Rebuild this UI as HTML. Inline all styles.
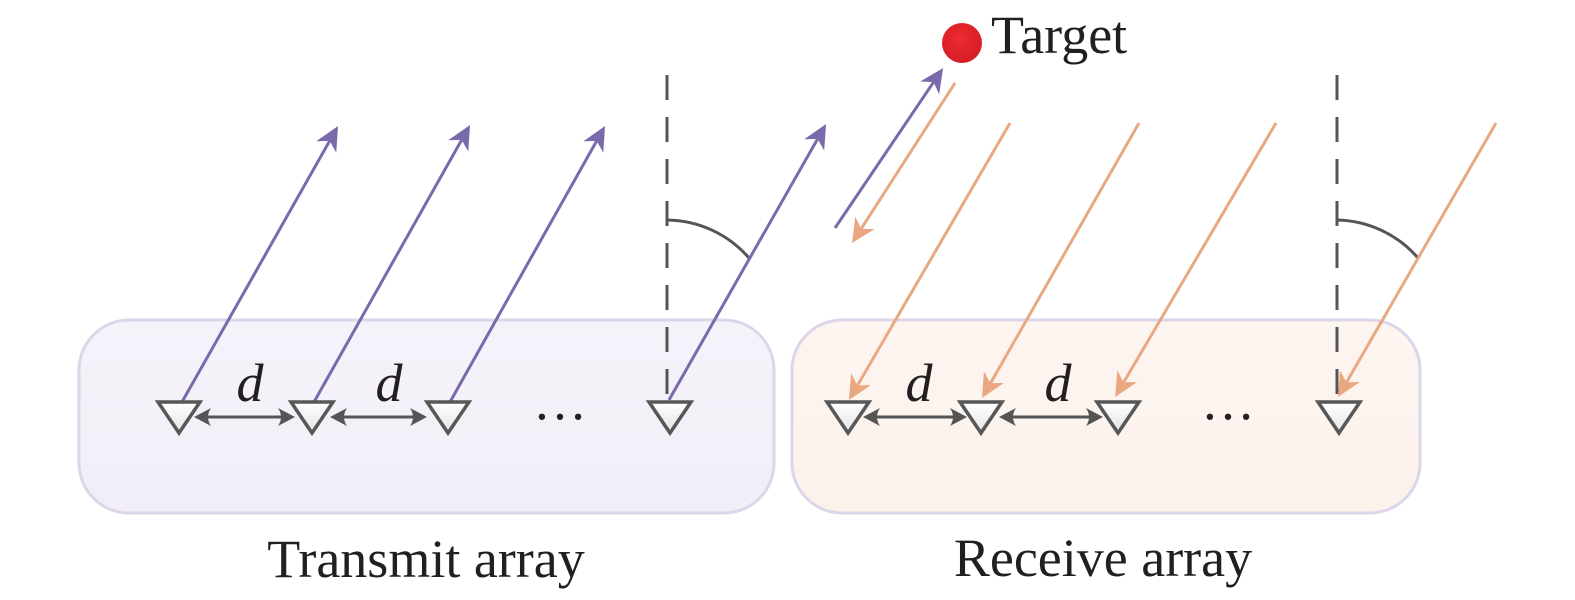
<!DOCTYPE html>
<html>
<head>
<meta charset="utf-8">
<style>
  html,body{margin:0;padding:0;background:#ffffff;}
  svg{display:block;}
  text{font-family:"Liberation Serif","Times New Roman",serif;fill:#231f20;}
</style>
</head>
<body>
<svg width="1575" height="600" viewBox="0 0 1575 600" xmlns="http://www.w3.org/2000/svg">
  <defs>
    <linearGradient id="gL" x1="0" y1="0" x2="0" y2="1">
      <stop offset="0" stop-color="#f5f3fa"/>
      <stop offset="1" stop-color="#f1eef7"/>
    </linearGradient>
    <linearGradient id="gR" x1="0" y1="0" x2="0" y2="1">
      <stop offset="0" stop-color="#fdf5f0"/>
      <stop offset="1" stop-color="#fcf2ec"/>
    </linearGradient>
    <linearGradient id="gT" x1="0" y1="0" x2="0" y2="1">
      <stop offset="0" stop-color="#ffffff"/>
      <stop offset="1" stop-color="#e4e4e4"/>
    </linearGradient>
    <radialGradient id="gDot" cx="0.45" cy="0.4" r="0.6">
      <stop offset="0" stop-color="#ef2b2f"/>
      <stop offset="1" stop-color="#d41e26"/>
    </radialGradient>
    <marker id="mP" markerUnits="userSpaceOnUse" markerWidth="50" markerHeight="50" viewBox="-25 -25 50 50" refX="0" refY="0" orient="auto" overflow="visible">
      <path d="M8,0 L-16,-11.5 L-9,0 L-16,11.5 Z" fill="#7a6aab"/>
    </marker>
    <marker id="mO" markerUnits="userSpaceOnUse" markerWidth="50" markerHeight="50" viewBox="-25 -25 50 50" refX="0" refY="0" orient="auto" overflow="visible">
      <path d="M8,0 L-16,-11.5 L-9,0 L-16,11.5 Z" fill="#e9a882"/>
    </marker>
    <marker id="mG" markerUnits="userSpaceOnUse" markerWidth="30" markerHeight="30" viewBox="-15 -15 30 30" refX="0" refY="0" orient="auto-start-reverse" overflow="visible">
      <path d="M6,0 L-11,-9 Q-5,0 -11,9 Z" fill="#555555"/>
    </marker>
  </defs>

  <!-- boxes -->
  <rect x="79" y="320" width="695" height="193" rx="50" ry="50" fill="url(#gL)" stroke="#ddd5ea" stroke-width="3"/>
  <rect x="792" y="320" width="628" height="193" rx="50" ry="50" fill="url(#gR)" stroke="#ddd5ea" stroke-width="3"/>

  <!-- dashed normals -->
  <line x1="667" y1="75" x2="667" y2="400" stroke="#555555" stroke-width="3" stroke-dasharray="25 17"/>
  <line x1="1337" y1="75" x2="1337" y2="398" stroke="#555555" stroke-width="3" stroke-dasharray="25 17"/>

  <!-- angle arcs -->
  <path d="M667,220 A110,110 0 0,1 749,258" fill="none" stroke="#555555" stroke-width="3"/>
  <path d="M1337,220 A110,110 0 0,1 1418,258" fill="none" stroke="#555555" stroke-width="3"/>

  <!-- transmit (purple) -->
  <g stroke="#7a6aab" stroke-width="3" fill="none">
    <line x1="182" y1="402" x2="334.1" y2="133" marker-end="url(#mP)"/>
    <line x1="314" y1="402" x2="466.1" y2="132" marker-end="url(#mP)"/>
    <line x1="450" y1="402" x2="601.1" y2="133" marker-end="url(#mP)"/>
    <line x1="669" y1="400" x2="822.1" y2="131" marker-end="url(#mP)"/>
    <line x1="835" y1="228" x2="938.6" y2="74.7" marker-end="url(#mP)"/>
  </g>

  <!-- receive (orange) -->
  <g stroke="#e9a882" stroke-width="3" fill="none">
    <line x1="955" y1="83" x2="856.3" y2="236.3" marker-end="url(#mO)"/>
    <line x1="1010" y1="123" x2="853" y2="393.1" marker-end="url(#mO)"/>
    <line x1="1139" y1="123" x2="986" y2="391.1" marker-end="url(#mO)"/>
    <line x1="1276" y1="123" x2="1119.1" y2="390.1" marker-end="url(#mO)"/>
    <line x1="1496" y1="123" x2="1342" y2="390.1" marker-end="url(#mO)"/>
  </g>

  <!-- triangles -->
  <g fill="url(#gT)" stroke="#575757" stroke-width="3.5" stroke-linejoin="miter">
    <polygon points="158,402 200,402 179,433"/>
    <polygon points="291,402 333,402 312,433"/>
    <polygon points="427,402 469,402 448,433"/>
    <polygon points="649,402 691,402 670,433"/>
    <polygon points="827,402 869,402 848,433"/>
    <polygon points="960,402 1002,402 981,433"/>
    <polygon points="1097,402 1139,402 1118,433"/>
    <polygon points="1318,402 1360,402 1339,433"/>
  </g>

  <!-- spacing arrows -->
  <g stroke="#555555" stroke-width="3">
    <line x1="200" y1="417" x2="289" y2="417" marker-start="url(#mG)" marker-end="url(#mG)"/>
    <line x1="336" y1="417" x2="421" y2="417" marker-start="url(#mG)" marker-end="url(#mG)"/>
    <line x1="869" y1="417" x2="961" y2="417" marker-start="url(#mG)" marker-end="url(#mG)"/>
    <line x1="1005" y1="417" x2="1097" y2="417" marker-start="url(#mG)" marker-end="url(#mG)"/>
  </g>

  <!-- d labels -->
  <g font-size="54" font-style="italic" text-anchor="middle">
    <text x="250" y="401">d</text>
    <text x="389" y="401">d</text>
    <text x="919" y="401">d</text>
    <text x="1058" y="401">d</text>
  </g>

  <!-- ellipses -->
  <g font-size="54" text-anchor="middle">
    <text x="560" y="419">…</text>
    <text x="1228" y="419">…</text>
  </g>

  <!-- target -->
  <circle cx="962" cy="43" r="20" fill="url(#gDot)"/>
  <text x="991" y="53" font-size="54">Target</text>

  <!-- captions -->
  <text x="426" y="577" font-size="54" text-anchor="middle">Transmit array</text>
  <text x="1103" y="576" font-size="54" text-anchor="middle">Receive array</text>
</svg>
</body>
</html>
